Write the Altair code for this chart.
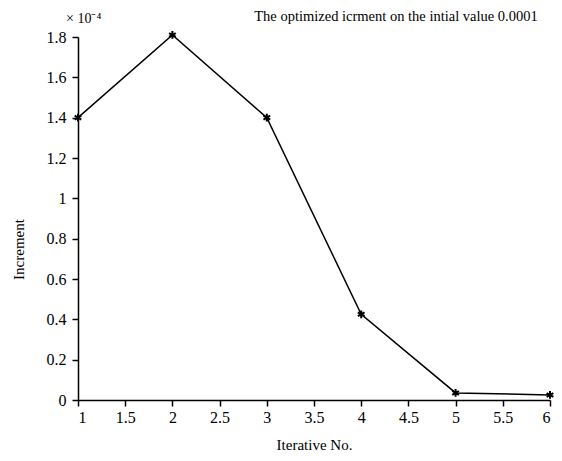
import altair as alt
import pandas as pd

iters = [1, 2, 3, 4, 5, 6]
increments = [1.40, 1.81, 1.40, 0.425, 0.035, 0.025]  # x 1e-4

df = pd.DataFrame({"iter": iters, "inc": increments})

FONT = "Liberation Serif"
asterisk = "M0,-1L0,1M-0.87,-0.5L0.87,0.5M-0.87,0.5L0.87,-0.5"

x = alt.X("iter:Q", scale=alt.Scale(domain=[1, 6], nice=False),
          axis=alt.Axis(values=[1, 1.5, 2, 2.5, 3, 3.5, 4, 4.5, 5, 5.5, 6], format="~g",
                        title="Iterative No.", titlePadding=12, labelPadding=3))
y = alt.Y("inc:Q", scale=alt.Scale(domain=[0, 1.8], nice=False),
          axis=alt.Axis(values=[0, 0.2, 0.4, 0.6, 0.8, 1, 1.2, 1.4, 1.6, 1.8], format="~g",
                        title="Increment", titlePadding=20, titleY=212, labelPadding=6))

line = alt.Chart(df).mark_line(color="black", strokeWidth=1.5).encode(x=x, y=y)
pts = alt.Chart(df).mark_point(shape=asterisk, size=60, filled=False, color="black",
                               strokeWidth=2, opacity=1).encode(x=x, y=y)
note = alt.Chart(pd.DataFrame({"t": ["× 10⁻⁴"]})).mark_text(
    font=FONT, fontSize=14, align="left", baseline="bottom", color="black"
).encode(text="t:N", x=alt.value(-12), y=alt.value(-11))
ttl = alt.Chart(pd.DataFrame({"t": ["The optimized icrment on the intial value 0.0001"]})).mark_text(
    font=FONT, fontSize=14.5, align="center", baseline="bottom", color="black"
).encode(text="t:N", x=alt.value(318), y=alt.value(-13))

chart = (line + pts + note + ttl).properties(
    width=472, height=363,
    autosize=alt.AutoSizeParams(type="none"),
    padding={"left": 70, "top": 29, "right": 4, "bottom": 53},
).configure_view(stroke=None).configure_axis(
    grid=False, domainColor="black", tickColor="black", labelColor="black",
    titleColor="black", labelFont=FONT, titleFont=FONT, labelFontSize=16,
    titleFontSize=15, titleFontWeight="normal", tickSize=6, domainWidth=1.5, tickWidth=1.5
)

chart.save("out.html", embed_options={"renderer": "svg", "actions": False})
